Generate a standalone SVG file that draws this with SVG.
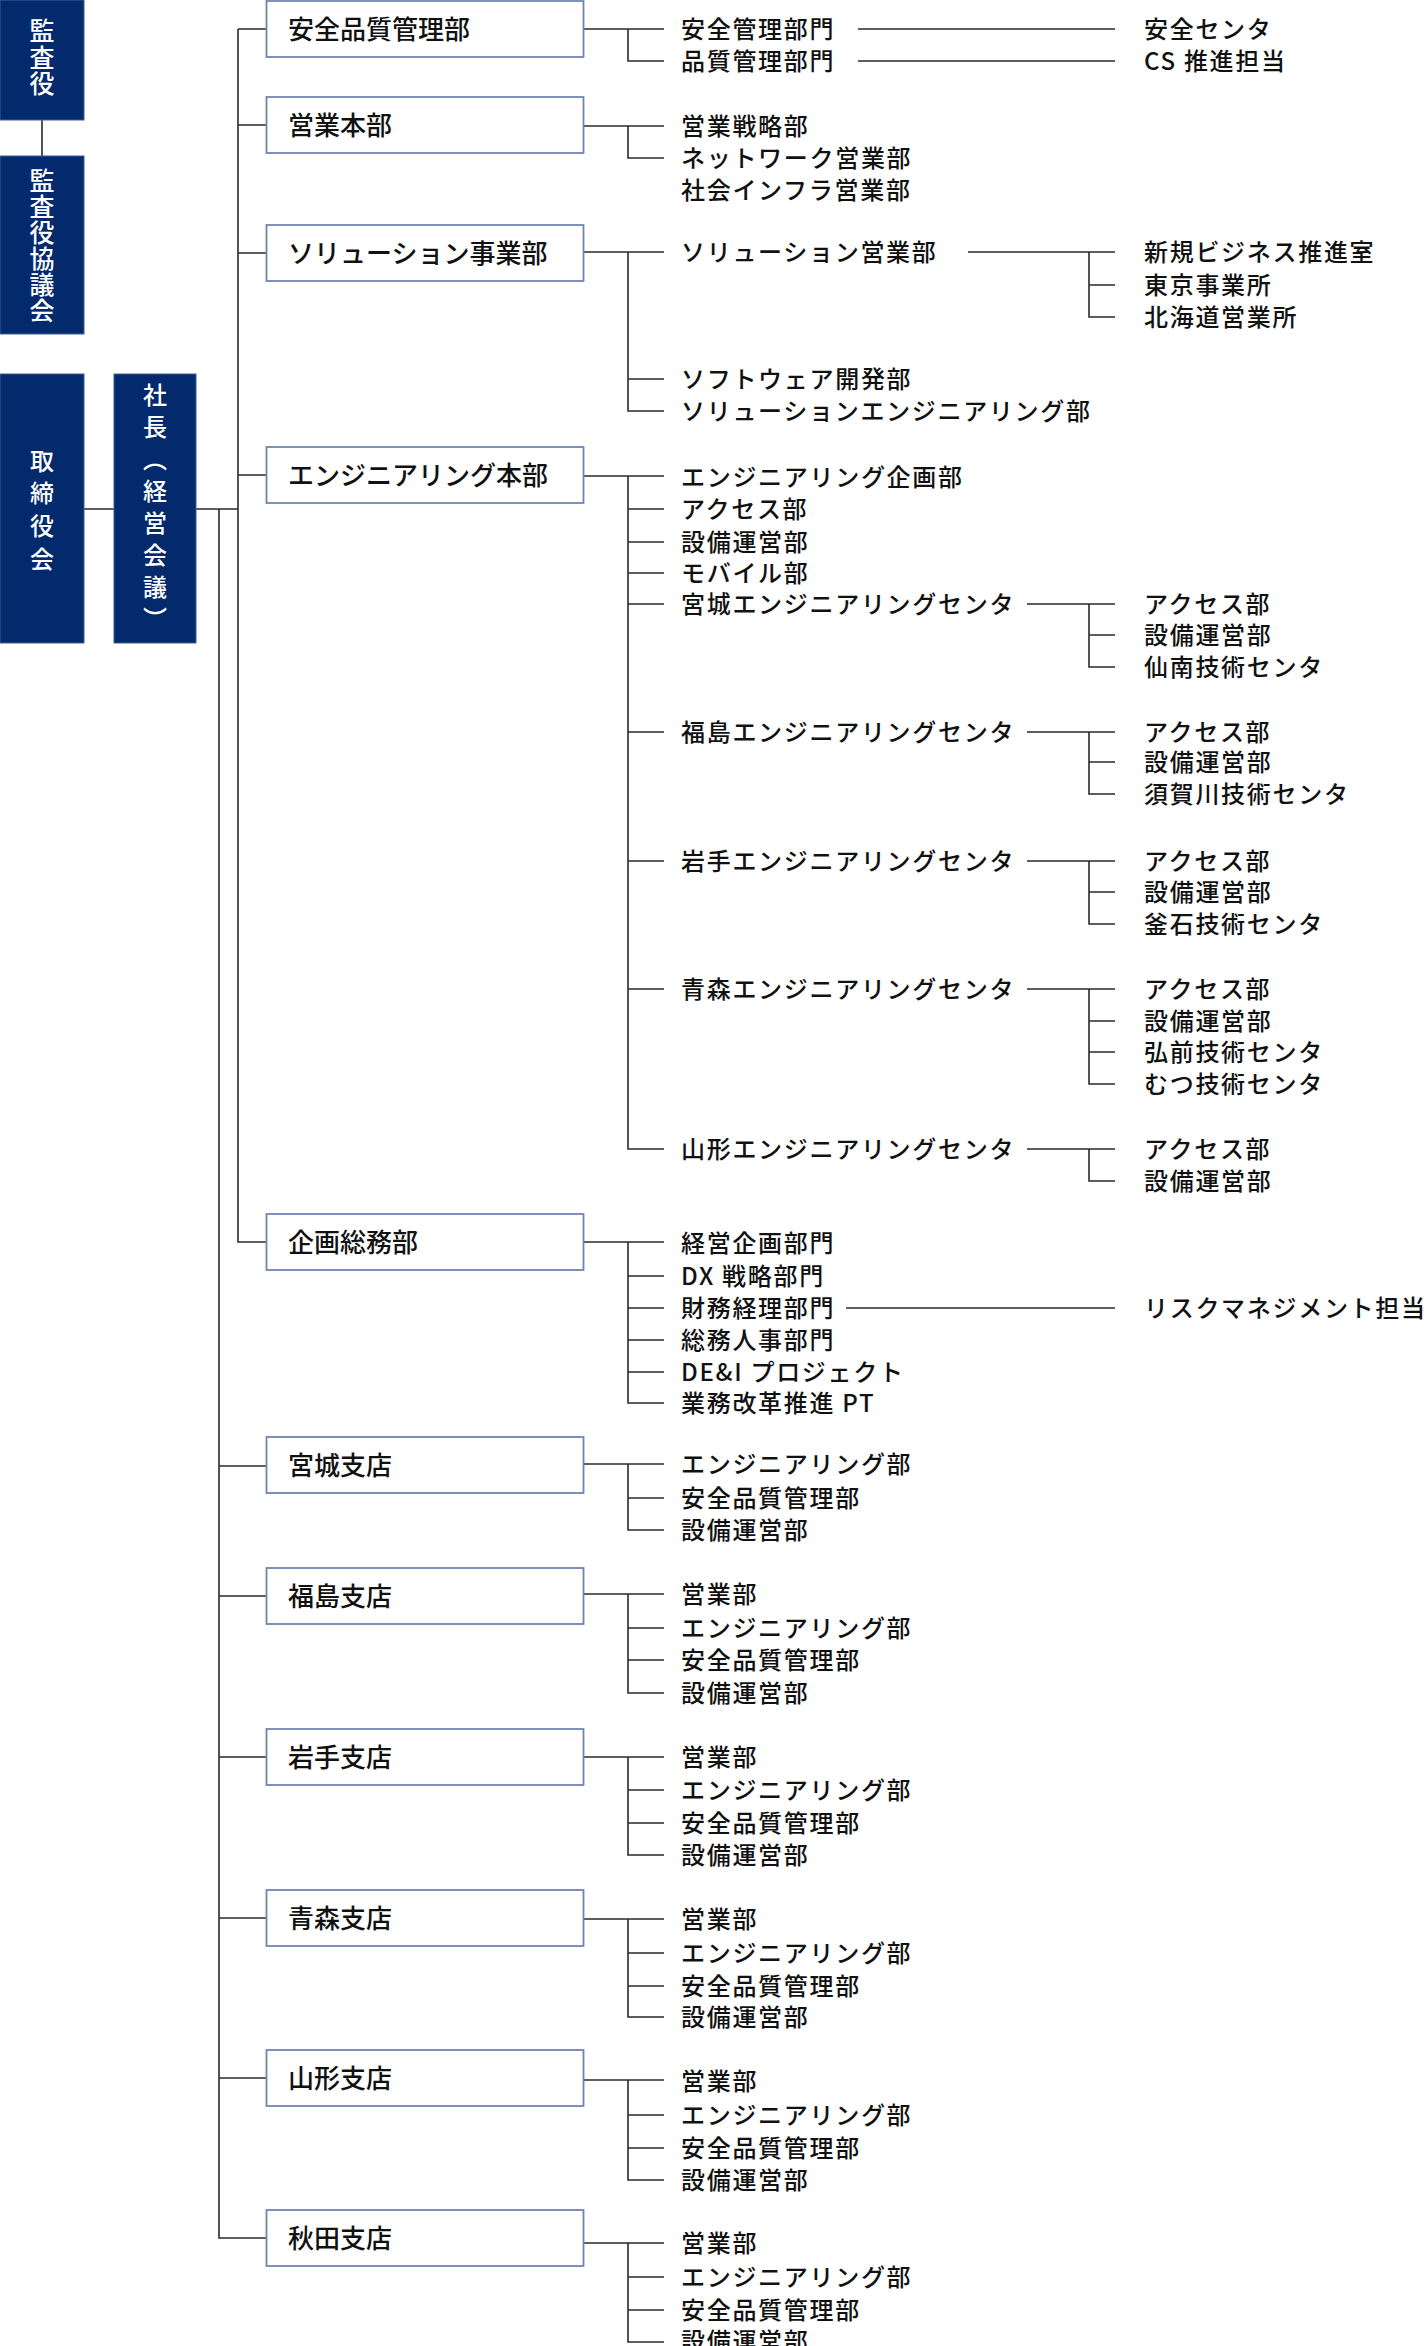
<svg xmlns="http://www.w3.org/2000/svg" width="1426" height="2346" viewBox="0 0 1426 2346">
<style>
.nav{fill:#022a6c;stroke:#3d5f93;stroke-width:1}
.box{fill:#fff;stroke:#6f86b1;stroke-width:1.8}
.wt{fill:#fff;font-family:"Noto Sans CJK JP","Noto Sans CJK SC",sans-serif;font-weight:500;font-size:25px;writing-mode:vertical-rl;text-anchor:middle}
.bt{fill:#111;font-family:"Noto Sans CJK JP","Noto Sans CJK SC",sans-serif;font-weight:500;font-size:26px}
.lt{fill:#111;font-family:"Noto Sans CJK JP","Noto Sans CJK SC",sans-serif;font-weight:500;font-size:24px;letter-spacing:1.7px}
.ln{stroke:#2a2a2a;stroke-width:1.6;fill:none}
</style>
<rect width="1426" height="2346" fill="#fff"/>
<g id="connectors" class="ln">
<path d="M42,120V156M84,509H114M196,509H238"/>
<path d="M238,29V1242H266M238,29H266M238,125H266M238,253H266M238,475H266"/>
<path d="M219,509V2238H267M219,1466H267M219,1596H267M219,1757H267M219,1918H267M219,2078H267"/>
<path d="M584,29H664M628,29V61H664M858,29H1115M858,61H1115"/>
<path d="M584,126H664M628,126V158H664"/>
<path d="M584,252H664M628,252V411H664M628,379H664M968,252H1115M1089,252V317H1115M1089,285H1115"/>
<path d="M584,476H664M628,476V1149H664M628,509H664M628,542H664M628,573H664M628,604H664M628,732H664M628,861H664M628,989H664"/>
<path d="M1027,604H1115M1089,604V667H1115M1089,635H1115"/>
<path d="M1027,732H1115M1089,732V794H1115M1089,762H1115"/>
<path d="M1027,861H1115M1089,861V924H1115M1089,892H1115"/>
<path d="M1027,989H1115M1089,989V1084H1115M1089,1021H1115M1089,1052H1115"/>
<path d="M1027,1149H1115M1089,1149V1181H1115"/>
<path d="M584,1242H664M628,1242V1403H664M628,1276H664M628,1308H664M628,1340H664M628,1372H664M846,1308H1115"/>
<path d="M584,1464H664M628,1464V1530H664M628,1498H664"/>
<path d="M584,1594H664M628,1594V1693H664M628,1628H664M628,1660H664"/>
<path d="M584,1757H664M628,1757V1855H664M628,1790H664M628,1823H664"/>
<path d="M584,1919H664M628,1919V2017H664M628,1953H664M628,1986H664"/>
<path d="M584,2080H664M628,2080V2180H664M628,2115H664M628,2148H664"/>
<path d="M584,2243H664M628,2243V2342H664M628,2277H664M628,2310H664"/>
</g>
<g id="n-kansayaku"><rect class="nav" x="0" y="0" width="84" height="120"/><text class="wt" x="42" y="58" style="letter-spacing:1.7px">監査役</text></g>
<g id="n-kansayakukyogikai"><rect class="nav" x="0" y="156" width="84" height="178"/><text class="wt" x="42" y="246" style="letter-spacing:1px">監査役協議会</text></g>
<g id="n-torishimariyakukai"><rect class="nav" x="0" y="374" width="84" height="269"/><text class="wt" x="42" y="514" style="font-size:24px;letter-spacing:8.7px">取締役会</text></g>
<g id="n-shacho"><rect class="nav" x="114" y="374" width="82" height="269"/><text class="wt" x="155" y="511" style="font-size:24px;letter-spacing:8px">社長（経営会議）</text></g>
<g id="n-anzen"><rect class="box" x="266.5" y="1" width="317" height="56"/><text class="bt" x="288" y="39">安全品質管理部</text></g>
<g id="n-eigyo"><rect class="box" x="266.5" y="97" width="317" height="56"/><text class="bt" x="288" y="135">営業本部</text></g>
<g id="n-solution"><rect class="box" x="266.5" y="225" width="317" height="56"/><text class="bt" x="288" y="263">ソリューション事業部</text></g>
<g id="n-engineering"><rect class="box" x="266.5" y="447" width="317" height="56"/><text class="bt" x="288" y="485">エンジニアリング本部</text></g>
<g id="n-kikaku"><rect class="box" x="266.5" y="1214" width="317" height="56"/><text class="bt" x="288" y="1252">企画総務部</text></g>
<g id="n-miyagi"><rect class="box" x="266.5" y="1437" width="317" height="56"/><text class="bt" x="288" y="1475">宮城支店</text></g>
<g id="n-fukushima"><rect class="box" x="266.5" y="1568" width="317" height="56"/><text class="bt" x="288" y="1606">福島支店</text></g>
<g id="n-iwate"><rect class="box" x="266.5" y="1729" width="317" height="56"/><text class="bt" x="288" y="1767">岩手支店</text></g>
<g id="n-aomori"><rect class="box" x="266.5" y="1890" width="317" height="56"/><text class="bt" x="288" y="1928">青森支店</text></g>
<g id="n-yamagata"><rect class="box" x="266.5" y="2050" width="317" height="56"/><text class="bt" x="288" y="2088">山形支店</text></g>
<g id="n-akita"><rect class="box" x="266.5" y="2210" width="317" height="56"/><text class="bt" x="288" y="2248">秋田支店</text></g>
<g id="sub-anzen" class="lt">
<text x="681" y="38">安全管理部門</text><text x="681" y="70">品質管理部門</text>
<text x="1144" y="38">安全センタ</text><text x="1144" y="70">CS 推進担当</text>
</g>
<g id="sub-eigyo" class="lt">
<text x="681" y="135">営業戦略部</text><text x="681" y="167">ネットワーク営業部</text><text x="681" y="199">社会インフラ営業部</text>
</g>
<g id="sub-solution" class="lt">
<text x="681" y="261">ソリューション営業部</text><text x="681" y="388">ソフトウェア開発部</text><text x="681" y="420">ソリューションエンジニアリング部</text>
<text x="1144" y="261">新規ビジネス推進室</text><text x="1144" y="294">東京事業所</text><text x="1144" y="326">北海道営業所</text>
</g>
<g id="sub-engineering" class="lt">
<text x="681" y="486">エンジニアリング企画部</text><text x="681" y="518">アクセス部</text><text x="681" y="551">設備運営部</text><text x="681" y="582">モバイル部</text>
<text x="681" y="613">宮城エンジニアリングセンタ</text><text x="681" y="741">福島エンジニアリングセンタ</text><text x="681" y="870">岩手エンジニアリングセンタ</text><text x="681" y="998">青森エンジニアリングセンタ</text><text x="681" y="1158">山形エンジニアリングセンタ</text>
<text x="1144" y="613">アクセス部</text><text x="1144" y="644">設備運営部</text><text x="1144" y="676">仙南技術センタ</text>
<text x="1144" y="741">アクセス部</text><text x="1144" y="771">設備運営部</text><text x="1144" y="803">須賀川技術センタ</text>
<text x="1144" y="870">アクセス部</text><text x="1144" y="901">設備運営部</text><text x="1144" y="933">釜石技術センタ</text>
<text x="1144" y="998">アクセス部</text><text x="1144" y="1030">設備運営部</text><text x="1144" y="1061">弘前技術センタ</text><text x="1144" y="1093">むつ技術センタ</text>
<text x="1144" y="1158">アクセス部</text><text x="1144" y="1190">設備運営部</text>
</g>
<g id="sub-kikaku" class="lt">
<text x="681" y="1252">経営企画部門</text><text x="681" y="1285">DX 戦略部門</text><text x="681" y="1317">財務経理部門</text><text x="681" y="1349">総務人事部門</text><text x="681" y="1381">DE&amp;I プロジェクト</text><text x="681" y="1412">業務改革推進 PT</text>
<text x="1144" y="1317">リスクマネジメント担当</text>
</g>
<g id="sub-miyagi" class="lt">
<text x="681" y="1473">エンジニアリング部</text><text x="681" y="1507">安全品質管理部</text><text x="681" y="1539">設備運営部</text>
</g>
<g id="sub-fukushima" class="lt">
<text x="681" y="1603">営業部</text><text x="681" y="1637">エンジニアリング部</text><text x="681" y="1669">安全品質管理部</text><text x="681" y="1702">設備運営部</text>
</g>
<g id="sub-iwate" class="lt">
<text x="681" y="1766">営業部</text><text x="681" y="1799">エンジニアリング部</text><text x="681" y="1832">安全品質管理部</text><text x="681" y="1864">設備運営部</text>
</g>
<g id="sub-aomori" class="lt">
<text x="681" y="1928">営業部</text><text x="681" y="1962">エンジニアリング部</text><text x="681" y="1995">安全品質管理部</text><text x="681" y="2026">設備運営部</text>
</g>
<g id="sub-yamagata" class="lt">
<text x="681" y="2090">営業部</text><text x="681" y="2124">エンジニアリング部</text><text x="681" y="2157">安全品質管理部</text><text x="681" y="2189">設備運営部</text>
</g>
<g id="sub-akita" class="lt">
<text x="681" y="2252">営業部</text><text x="681" y="2286">エンジニアリング部</text><text x="681" y="2319">安全品質管理部</text><text x="681" y="2350">設備運営部</text>
</g>
</svg>
